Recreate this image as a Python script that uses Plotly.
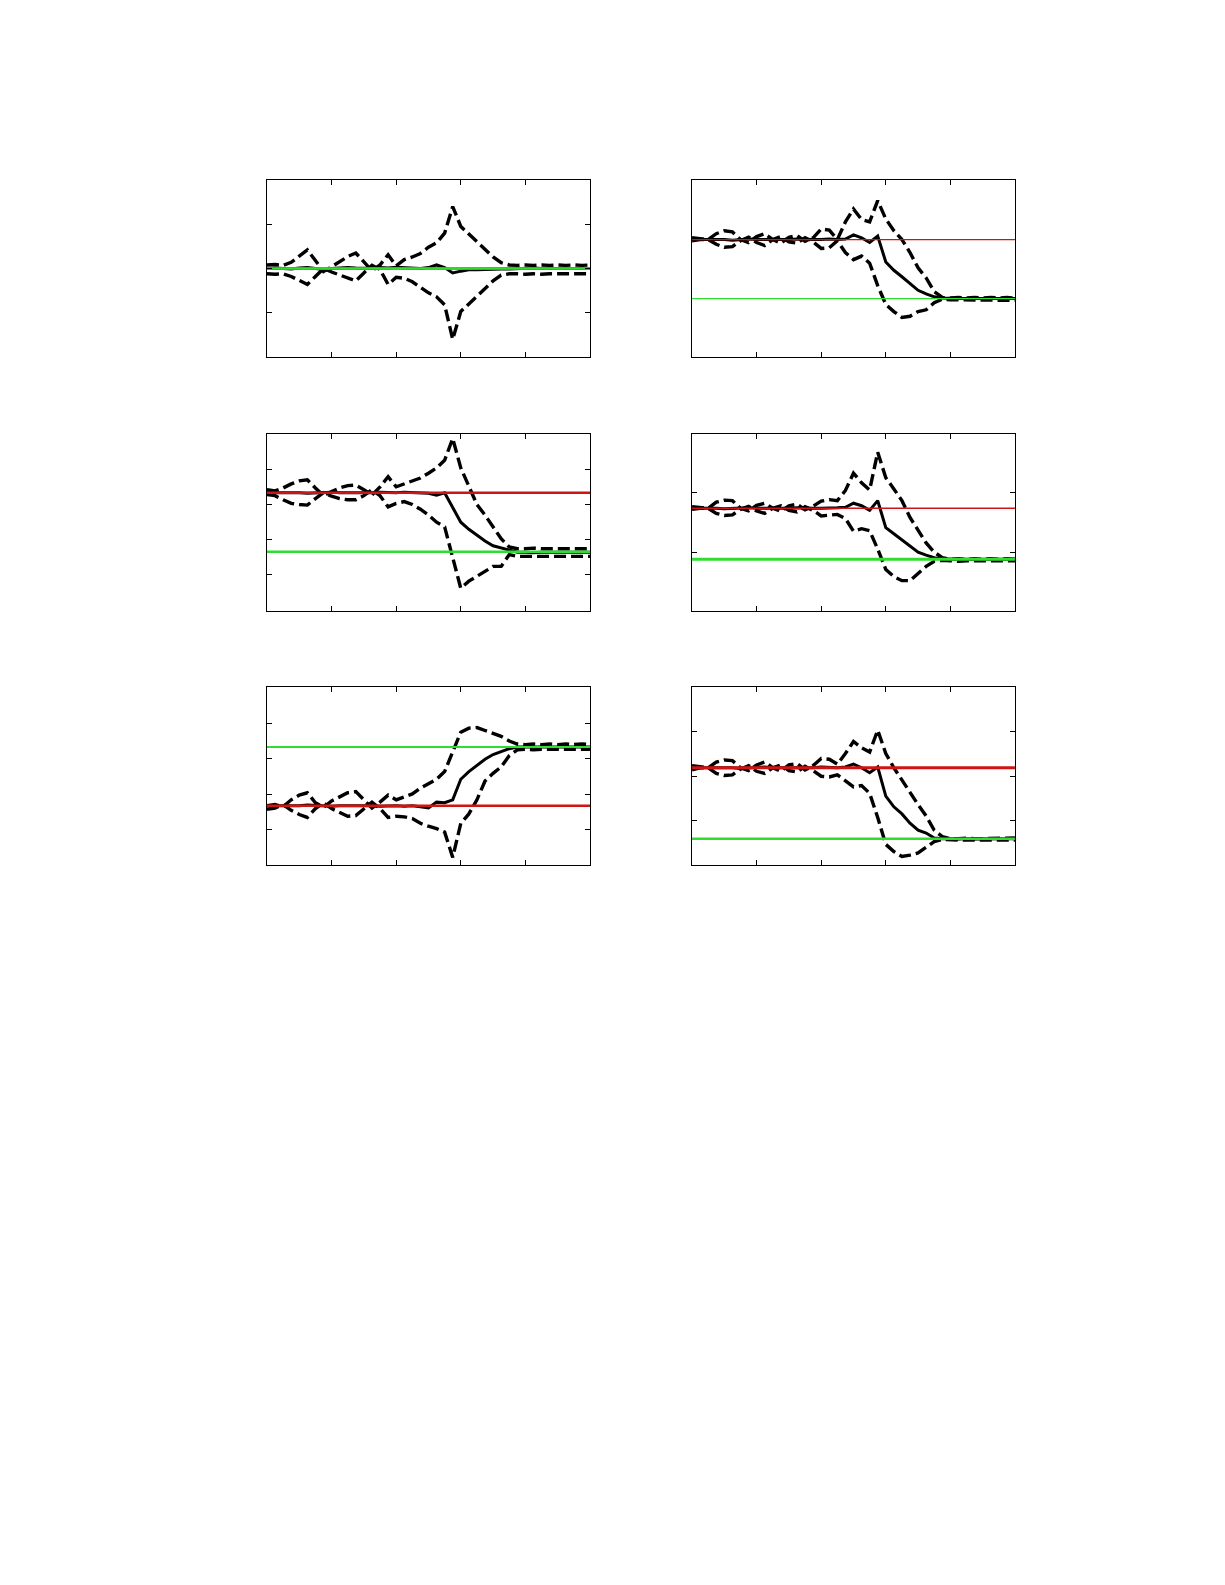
import plotly.graph_objects as go
from plotly.subplots import make_subplots

# common time axis
t = [0, 1.25, 2.5, 3.75, 5, 6.25, 7.5, 8.75, 10, 11.25, 12.5, 13.75, 15, 16.25, 17.5,
     18.75, 20, 21.25, 22.5, 23.75, 25, 26.25, 27.5, 28.75, 30, 31.25, 32.5, 33.75, 35,
     36.25, 37.5, 38.75, 40, 41.25, 42.5, 43.75, 45, 46.25, 47.5, 48.75, 50]

# panel 1 (top left)
mean_1 = [0.0, 0.01, 0.0, -0.01, 0.01, 0.02, 0.0, -0.02, 0.0, 0.01, 0.02, 0.01, 0.0, 0.0, 0.02, 0.01, 0.03, 0.02, 0.01, 0.0,
          0.02, 0.08, 0.02, -0.1, -0.06, -0.03, -0.03, -0.02, -0.02, -0.01, -0.01, 0.0, 0.0, 0.01, 0.0, 0.0, 0.01, 0.0, 0.0, 0.0, 0.0]
hi_1 = [0.08, 0.09, 0.07, 0.14, 0.28, 0.42, 0.18, -0.07, 0.04, 0.16, 0.27, 0.35, 0.14, -0.05, 0.08, 0.31, 0.06, 0.2, 0.26, 0.34,
        0.48, 0.58, 0.8, 1.4, 0.95, 0.78, 0.6, 0.42, 0.26, 0.13, 0.08, 0.07, 0.08, 0.07, 0.08, 0.07, 0.08, 0.07, 0.08, 0.07, 0.08]
lo_1 = [-0.12, -0.13, -0.12, -0.18, -0.27, -0.36, -0.18, 0.0, -0.08, -0.15, -0.22, -0.28, -0.1, 0.07, -0.02, -0.36, -0.2, -0.22, -0.3, -0.42,
        -0.55, -0.64, -0.82, -1.6, -0.97, -0.8, -0.62, -0.45, -0.28, -0.15, -0.12, -0.12, -0.13, -0.12, -0.13, -0.12, -0.12, -0.13, -0.12, -0.13, -0.12]

# panel 2 (top right)
mean_2 = [1.0, 1.0, 1.01, 1.0, 1.0, 0.99, 1.0, 1.01, 1.0, 1.0, 1.0, 0.99, 1.0, 1.01, 1.0, 1.0, 1.0, 1.01, 1.0, 1.01,
          1.08, 1.03, 0.95, 1.06, 0.62, 0.48, 0.37, 0.26, 0.14, 0.08, 0.03, 0.01, 0.0, 0.0, 0.0, 0.0, 0.0, 0.0, 0.0, 0.0, 0.0]
hi_2 = [1.03, 1.02, 1.0, 1.1, 1.15, 1.13, 1.0, 0.95, 1.05, 1.1, 1.0, 0.94, 1.04, 1.07, 0.97, 1.03, 1.18, 1.16, 1.0, 1.3,
        1.52, 1.34, 1.3, 1.66, 1.35, 1.15, 1.0, 0.78, 0.52, 0.35, 0.12, 0.02, 0.01, 0.02, 0.01, 0.02, 0.01, 0.02, 0.01, 0.02, 0.01]
lo_2 = [0.98, 1.0, 1.0, 0.92, 0.87, 0.88, 0.98, 1.04, 0.95, 0.9, 1.0, 1.05, 0.96, 0.94, 1.03, 0.96, 0.85, 0.86, 0.98, 0.78,
        0.66, 0.72, 0.6, 0.22, -0.1, -0.22, -0.32, -0.3, -0.22, -0.19, -0.07, -0.01, -0.02, -0.02, -0.03, -0.02, -0.02, -0.03, -0.02, -0.02, -0.03]

# panel 3 (middle left)
mean_3 = [1.0, 1.0, 1.01, 1.0, 1.0, 0.99, 1.0, 1.0, 1.01, 1.0, 1.0, 1.0, 0.99, 1.0, 1.01, 1.0, 1.0, 1.01, 1.0, 1.0,
          0.99, 0.96, 1.0, 0.75, 0.5, 0.38, 0.28, 0.18, 0.1, 0.06, 0.02, -0.01, -0.01, -0.02, -0.01, -0.01, -0.02, -0.01, -0.01, -0.02, -0.01]
hi_3 = [1.05, 1.03, 1.08, 1.15, 1.2, 1.22, 1.08, 0.95, 1.02, 1.08, 1.12, 1.13, 1.05, 0.96, 1.1, 1.27, 1.1, 1.15, 1.2, 1.25,
        1.33, 1.42, 1.55, 1.92, 1.42, 1.1, 0.8, 0.62, 0.42, 0.22, 0.08, 0.05, 0.05, 0.06, 0.05, 0.05, 0.06, 0.05, 0.05, 0.06, 0.05]
lo_3 = [0.97, 0.95, 0.88, 0.82, 0.8, 0.79, 0.9, 1.0, 0.94, 0.9, 0.88, 0.88, 0.95, 1.05, 0.95, 0.76, 0.82, 0.85, 0.8, 0.72,
        0.62, 0.5, 0.42, -0.1, -0.62, -0.5, -0.42, -0.33, -0.25, -0.25, -0.05, -0.08, -0.08, -0.09, -0.08, -0.08, -0.09, -0.08, -0.08, -0.09, -0.08]

# panel 4 (middle right)
mean_4 = [1.0, 1.0, 1.01, 1.0, 0.99, 1.0, 1.0, 1.01, 1.0, 1.0, 0.99, 1.0, 1.0, 1.01, 1.0, 1.0, 1.0, 1.0, 1.01, 1.02,
          1.1, 1.05, 0.96, 1.15, 0.62, 0.5, 0.38, 0.26, 0.14, 0.08, 0.03, 0.01, 0.0, 0.0, 0.0, 0.0, 0.0, 0.0, 0.0, 0.0, 0.0]
hi_4 = [1.03, 1.02, 1.0, 1.12, 1.16, 1.15, 1.0, 0.95, 1.06, 1.1, 1.0, 0.94, 1.05, 1.08, 0.97, 1.04, 1.14, 1.17, 1.15, 1.35,
        1.69, 1.5, 1.36, 2.1, 1.6, 1.38, 1.15, 0.82, 0.58, 0.32, 0.14, 0.03, 0.0, 0.01, 0.0, 0.01, 0.0, 0.01, 0.0, 0.01, 0.0]
lo_4 = [0.98, 1.0, 1.0, 0.9, 0.86, 0.87, 0.98, 1.04, 0.95, 0.9, 1.0, 1.05, 0.96, 0.93, 1.03, 0.96, 0.85, 0.86, 0.88, 0.8,
        0.55, 0.6, 0.56, 0.2, -0.2, -0.34, -0.42, -0.42, -0.28, -0.14, -0.04, -0.02, -0.03, -0.04, -0.03, -0.03, -0.04, -0.03, -0.03, -0.04, -0.03]

# panel 5 (bottom left)
mean_5 = [0.0, 0.0, -0.01, 0.0, 0.0, 0.01, 0.0, 0.0, -0.01, 0.0, 0.0, 0.0, 0.01, 0.0, -0.01, 0.0, 0.0, -0.01, 0.0, -0.02,
          -0.04, 0.06, 0.05, 0.1, 0.45, 0.58, 0.69, 0.79, 0.87, 0.92, 0.97, 1.0, 1.0, 1.0, 1.0, 1.0, 1.0, 1.0, 1.0, 1.0, 1.0]
hi_5 = [0.0, 0.02, -0.02, 0.1, 0.18, 0.22, 0.05, -0.03, 0.08, 0.15, 0.22, 0.24, 0.1, -0.04, 0.06, 0.18, 0.1, 0.15, 0.2, 0.3,
        0.37, 0.45, 0.58, 0.92, 1.25, 1.32, 1.33, 1.28, 1.23, 1.18, 1.1, 1.05, 1.04, 1.05, 1.04, 1.05, 1.04, 1.05, 1.04, 1.05, 1.04]
lo_5 = [-0.06, -0.04, 0.02, -0.08, -0.15, -0.2, -0.05, 0.05, -0.05, -0.12, -0.18, -0.17, -0.05, 0.06, -0.05, -0.2, -0.18, -0.19, -0.22, -0.3,
        -0.35, -0.39, -0.45, -0.88, -0.3, -0.14, 0.1, 0.42, 0.55, 0.66, 0.85, 0.95, 0.96, 0.95, 0.96, 0.96, 0.95, 0.96, 0.96, 0.95, 0.96]

# panel 6 (bottom right)
mean_6 = [1.0, 1.0, 1.0, 1.01, 1.0, 1.0, 0.99, 1.0, 1.0, 1.01, 1.0, 1.0, 1.0, 0.99, 1.0, 1.0, 1.01, 1.0, 1.0, 1.01,
          1.05, 1.0, 0.93, 1.01, 0.6, 0.45, 0.35, 0.22, 0.12, 0.08, 0.01, 0.0, 0.0, 0.0, 0.0, 0.0, 0.0, 0.0, 0.0, 0.0, 0.0]
hi_6 = [1.03, 1.02, 1.0, 1.08, 1.11, 1.1, 1.0, 0.96, 1.04, 1.08, 1.0, 0.95, 1.04, 1.06, 0.97, 1.03, 1.13, 1.12, 1.05, 1.2,
        1.37, 1.28, 1.22, 1.53, 1.2, 1.0, 0.82, 0.66, 0.48, 0.32, 0.12, 0.03, 0.0, 0.0, 0.01, 0.0, 0.0, 0.01, 0.0, 0.0, 0.01]
lo_6 = [0.97, 1.0, 1.0, 0.92, 0.89, 0.9, 0.98, 1.03, 0.95, 0.92, 1.0, 1.04, 0.96, 0.94, 1.02, 0.96, 0.88, 0.87, 0.9, 0.82,
        0.73, 0.75, 0.64, 0.3, -0.08, -0.18, -0.25, -0.23, -0.2, -0.12, -0.04, -0.01, -0.02, -0.02, -0.02, -0.02, -0.02, -0.02, -0.02, -0.02, -0.02]

# reference levels (red = start value, green = target value)
red_levels = [0, 1, 1, 1, 0, 1]
green_levels = [0, 0, 0, 0, 1, 0]

means = [mean_1, mean_2, mean_3, mean_4, mean_5, mean_6]
his = [hi_1, hi_2, hi_3, hi_4, hi_5, hi_6]
los = [lo_1, lo_2, lo_3, lo_4, lo_5, lo_6]

# per-panel axis setup
y_ranges = [[-2, 2], [-0.99, 2.01], [-1.005, 1.995], [-1.014, 2.457], [-1.01, 2.02], [-0.37, 2.137]]
y_ticks = [[-1, 0, 1], [], [-0.395, 0.198, 0.808, 1.397], [0.129, 1.306],
           [-0.40, 0.19, 0.81, 1.40], [0.263, 0.883, 1.507]]
red_widths = [2.5, 1.2, 2.5, 1.5, 2.5, 3]
green_widths = [2.5, 1.3, 2.5, 3, 2, 2.5]

RED = "#d01414"
GREEN = "#2fdc2f"

col_domains = [[0.2114, 0.4751], [0.5584, 0.8220]]
row_domains = [[0.7798, 0.8915], [0.6196, 0.7312], [0.4593, 0.5716]]

fig = make_subplots(rows=3, cols=2)

for k in range(6):
    r, c = k // 2 + 1, k % 2 + 1
    for series in (his[k], los[k]):
        fig.add_trace(go.Scatter(x=t, y=series, mode="lines",
                                 line=dict(color="black", width=3.4, dash="12px,5px")),
                      row=r, col=c)
    fig.add_trace(go.Scatter(x=t, y=means[k], mode="lines",
                             line=dict(color="black", width=3)), row=r, col=c)
    fig.add_trace(go.Scatter(x=[t[0], t[-1]], y=[red_levels[k]] * 2, mode="lines",
                             line=dict(color=RED, width=red_widths[k])), row=r, col=c)
    fig.add_trace(go.Scatter(x=[t[0], t[-1]], y=[green_levels[k]] * 2, mode="lines",
                             line=dict(color=GREEN, width=green_widths[k])), row=r, col=c)

    fig.update_xaxes(domain=col_domains[c - 1], range=[0, 50], tickvals=[10, 20, 30, 40],
                     row=r, col=c)
    fig.update_yaxes(domain=row_domains[r - 1], range=y_ranges[k], tickvals=y_ticks[k],
                     row=r, col=c)

fig.update_xaxes(showline=True, mirror="ticks", linecolor="black", linewidth=1.3,
                 ticks="inside", ticklen=5, tickcolor="black", tickwidth=1,
                 showticklabels=False, showgrid=False, zeroline=False)
fig.update_yaxes(showline=True, mirror="ticks", linecolor="black", linewidth=1.3,
                 ticks="inside", ticklen=5, tickcolor="black", tickwidth=1,
                 showticklabels=False, showgrid=False, zeroline=False)

fig.update_layout(
    width=1225, height=1585,
    margin=dict(l=0, r=0, t=0, b=0),
    plot_bgcolor="white", paper_bgcolor="white",
    showlegend=False,
)

fig.write_html("out.html")
